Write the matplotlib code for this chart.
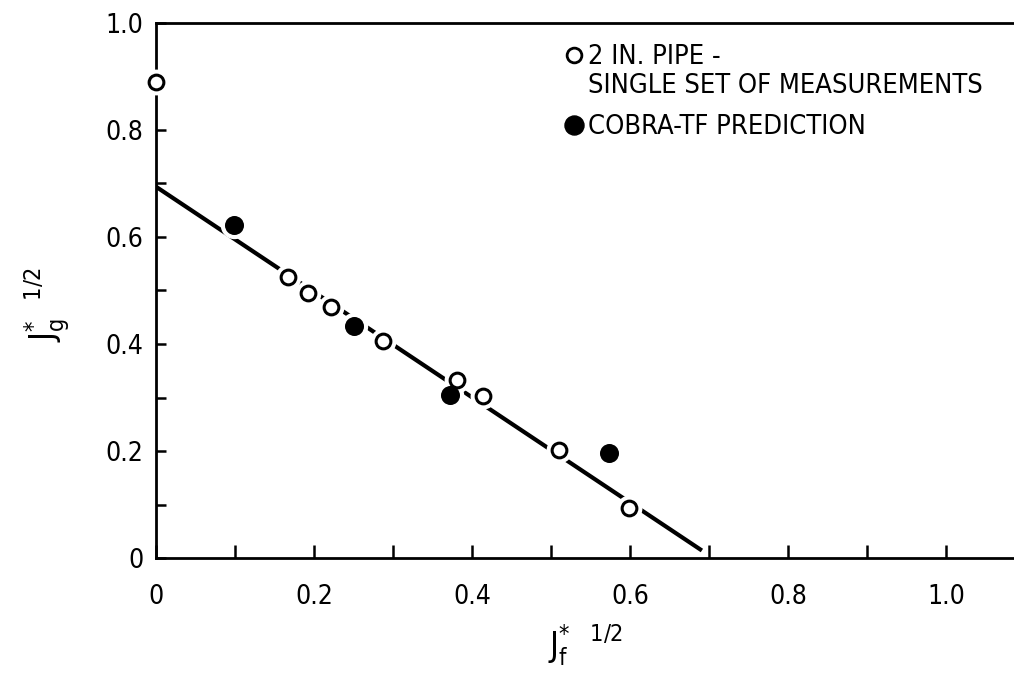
import matplotlib
matplotlib.use("Agg")
import matplotlib.pyplot as plt
from matplotlib.lines import Line2D
from matplotlib.ticker import MultipleLocator

# flooding data, square-root dimensionless superficial velocities
meas_x = [0.0, 0.167, 0.193, 0.221, 0.287, 0.381, 0.414, 0.510, 0.599]
meas_y = [0.890, 0.526, 0.495, 0.469, 0.406, 0.333, 0.303, 0.202, 0.093]
pred_x = [0.099, 0.251, 0.372, 0.573]
pred_y = [0.622, 0.434, 0.305, 0.196]

# correlation line end points
fit_x = [0.0, 0.691]
fit_y = [0.694, 0.014]

x_ticks = [0.0, 0.2, 0.4, 0.6, 0.8, 1.0]
x_labels = ["0", "0.2", "0.4", "0.6", "0.8", "1.0"]
y_ticks = [0.0, 0.2, 0.4, 0.6, 0.8, 1.0]
y_labels = ["0", "0.2", "0.4", "0.6", "0.8", "1.0"]

plt.rcParams["font.family"] = ["DejaVu Sans"]
plt.rcParams["font.stretch"] = "condensed"
plt.rcParams["mathtext.default"] = "regular"

fig = plt.figure(figsize=(10.14, 6.88), dpi=100)
ax = fig.add_axes([156 / 1014, 130 / 688, 1 - 156 / 1014, 535 / 688])
ax.set_xlim(0, (1014 - 156) / 790)
ax.set_ylim(0, 1.0)

ax.plot(fit_x, fit_y, color="black", lw=3, solid_capstyle="butt", zorder=3)

# white halos break the line around each symbol
ax.plot(pred_x, pred_y, "o", ms=18.7, color="white", mec="white", zorder=4, clip_on=False)
ax.plot(meas_x, meas_y, "o", ms=17.6, color="white", mec="white", zorder=4, clip_on=False)
ax.plot(pred_x, pred_y, "o", ms=13.7, color="black", mec="black", mew=0, zorder=5, clip_on=False)
ax.plot(meas_x, meas_y, "o", ms=10.6, mfc="white", mec="black", mew=2.2, zorder=6, clip_on=False)

for side in ["left", "bottom", "top"]:
    ax.spines[side].set_linewidth(2.0)
ax.spines["right"].set_visible(False)

ax.set_xticks(x_ticks)
ax.set_xticklabels(x_labels)
ax.set_yticks(y_ticks)
ax.set_yticklabels(y_labels)
ax.xaxis.set_minor_locator(MultipleLocator(0.1))
ax.yaxis.set_minor_locator(MultipleLocator(0.1))
ax.tick_params(axis="x", which="both", direction="in", length=9.5, width=1.8,
               top=False, labelsize=19, pad=19)
ax.tick_params(axis="y", which="both", direction="in", length=7.5, width=1.8,
               right=False, labelsize=19, pad=9)

fig.text(585 / 1014, 1 - 645 / 688, r"$J_f^{*\ \ \ 1/2}$", fontsize=24,
         ha="center", va="center")
fig.text(47 / 1014, 1 - 305 / 688, r"$J_g^{*\ \ \ 1/2}$", fontsize=24,
         ha="center", va="center", rotation=90)

# legend: open symbol with two text lines, then the prediction symbol
open_key = Line2D([], [], marker="o", ls="none", ms=10.6, mfc="white", mec="black", mew=2.0)
blank_key = Line2D([], [], ls="none")
fill_key = Line2D([], [], marker="o", ls="none", ms=13.7, color="black")

leg_fs = 19.5
leg1 = ax.legend([open_key, blank_key], ["2 IN. PIPE -", "SINGLE SET OF MEASUREMENTS"],
                 loc="upper left", bbox_to_anchor=((564 - 156) / 858, 1 - 21 / 535),
                 frameon=False, fontsize=leg_fs, handlelength=0.75, handletextpad=0.12,
                 borderpad=0, borderaxespad=0, labelspacing=0.1)
ax.add_artist(leg1)
ax.legend([fill_key], ["COBRA-TF PREDICTION"],
          loc="upper left", bbox_to_anchor=((564 - 156) / 858, 1 - 91 / 535),
          frameon=False, fontsize=leg_fs, handlelength=0.75, handletextpad=0.12,
          borderpad=0, borderaxespad=0)

fig.savefig("out.png", dpi=100)
